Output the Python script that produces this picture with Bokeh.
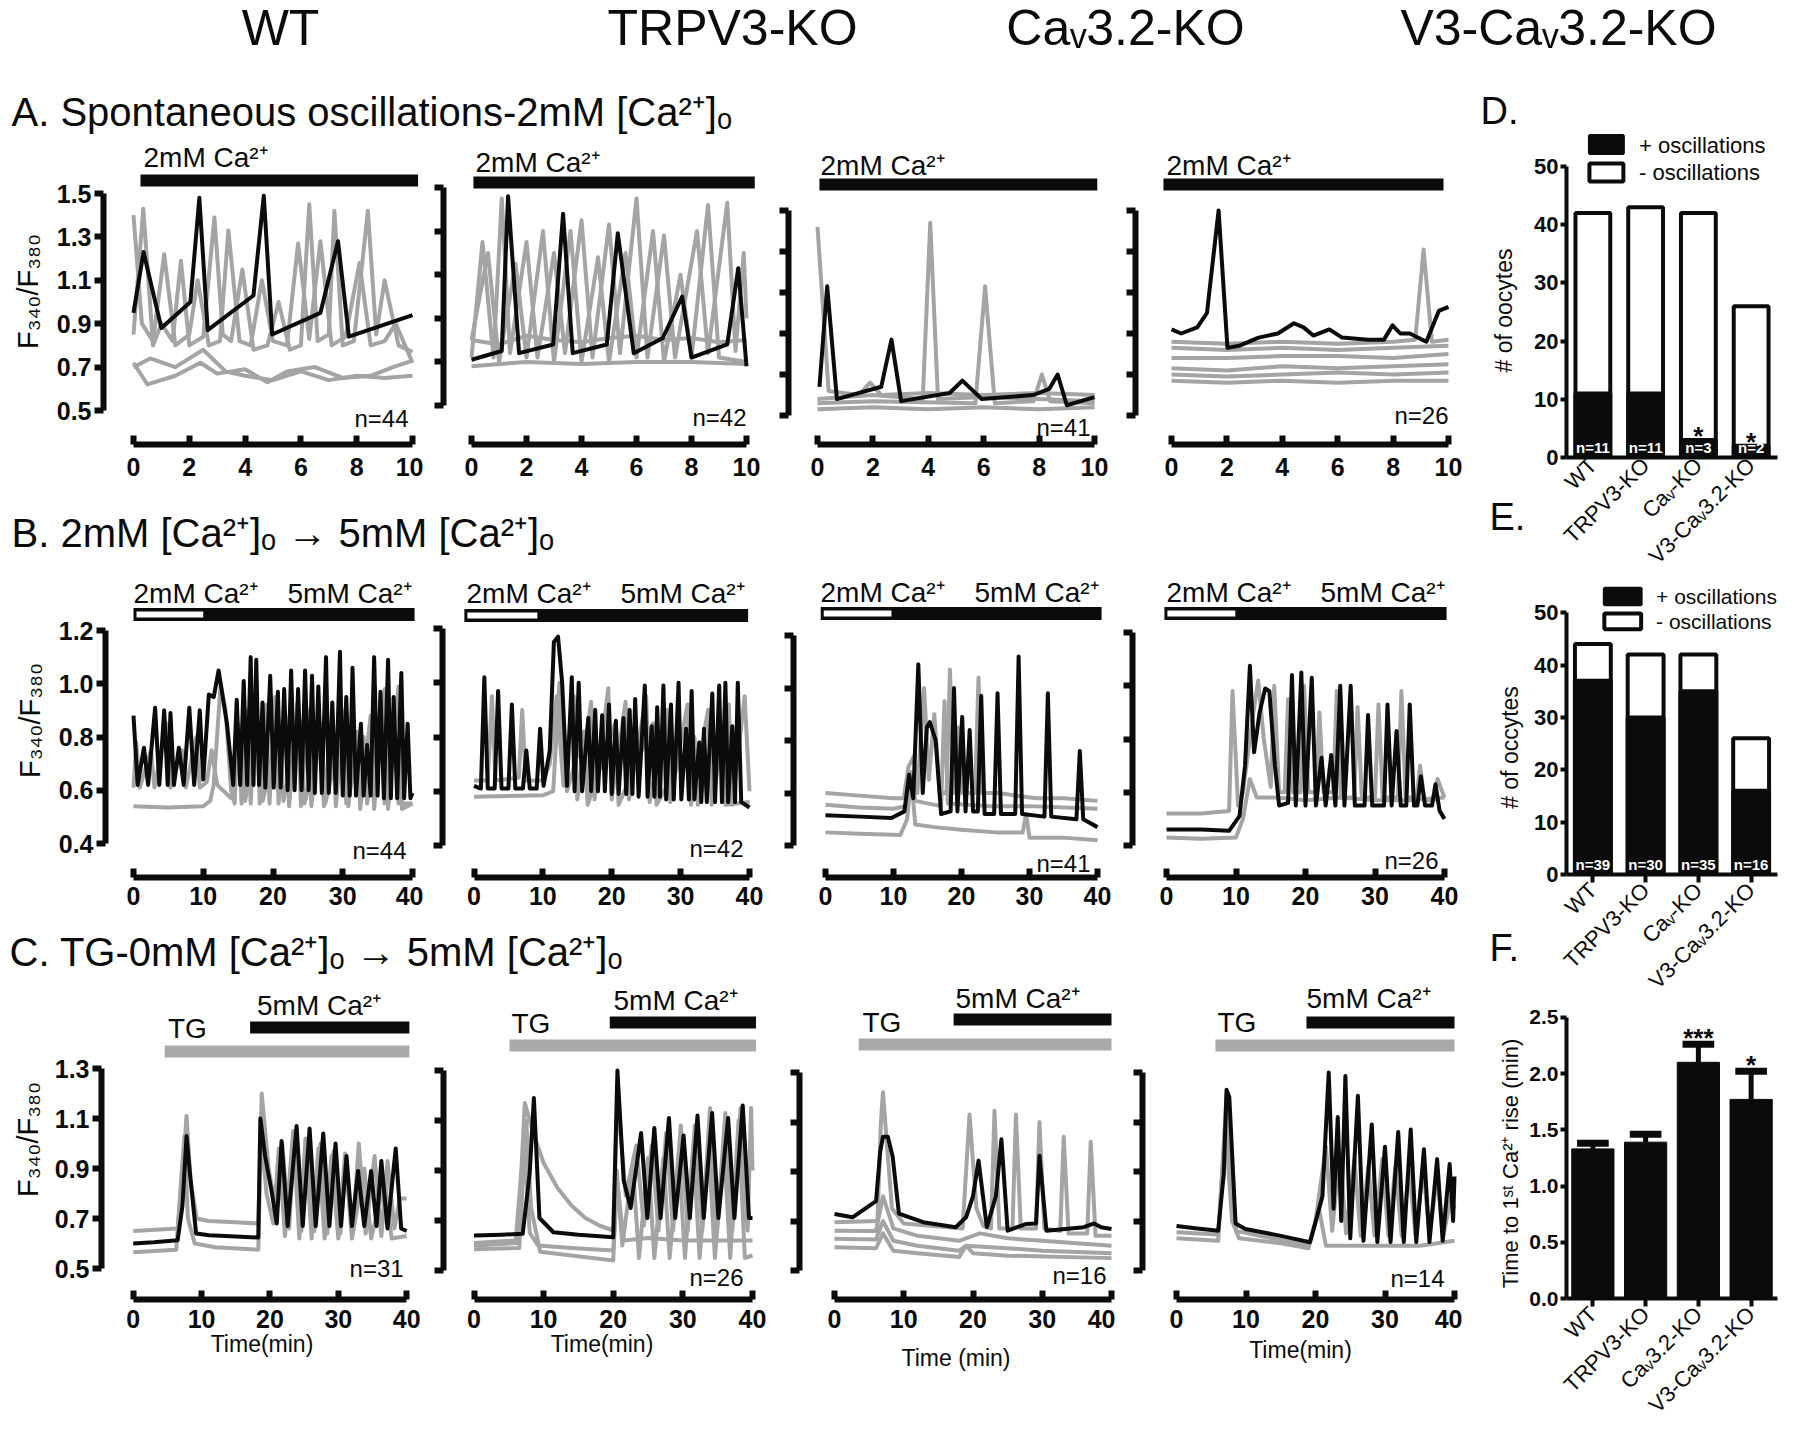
import math
from bokeh.plotting import figure
from bokeh.layouts import row, column
from bokeh.models import (Range1d, LinearAxis, FixedTicker, Spacer,
                          NumeralTickFormatter, CustomJSTickFormatter)
from bokeh.core.properties import value
from bokeh.embed import file_html
from bokeh.resources import INLINE

FONT = "Liberation Sans"
INK = "#0b0b0b"
GREY = "#a4a4a4"

# ------------------------------------------------------------------ texts
HEADERS = ["WT", "TRPV3-KO", "Caᵥ3.2-KO", "V3-Caᵥ3.2-KO"]
TITLE_A = "A. Spontaneous oscillations-2mM [Ca²⁺]ₒ"
TITLE_B = "B. 2mM [Ca²⁺]ₒ → 5mM [Ca²⁺]ₒ"
TITLE_C = "C. TG-0mM [Ca²⁺]ₒ → 5mM [Ca²⁺]ₒ"
PANEL_LETTERS = ["D.", "E.", "F."]
YLABEL = "F₃₄₀/F₃₈₀"
N_A = ["n=44", "n=42", "n=41", "n=26"]
N_B = ["n=44", "n=42", "n=41", "n=26"]
N_C = ["n=31", "n=26", "n=16", "n=14"]
TIME_LABELS = ["Time(min)", "Time(min)", "Time (min)", "Time(min)"]

A_YTICKS = [0.5, 0.7, 0.9, 1.1, 1.3, 1.5]
A_XTICKS = [0, 2, 4, 6, 8, 10]
B_YTICKS = [0.4, 0.6, 0.8, 1.0, 1.2]
C_YTICKS = [0.5, 0.7, 0.9, 1.1, 1.3]
BC_XTICKS = [0, 10, 20, 30, 40]

# stimulus timing (min)
A_STIM = [(0.25, 10.2), (0.07, 10.3), (0.07, 10.1), (-0.29, 9.82)]
B_STIM = [(0.0, 10.0, 40.3), (-1.4, 9.2, 39.8), (-0.7, 9.7, 40.6), (-0.3, 9.9, 40.3)]
C_TG = [(4.6, 40.4), (5.1, 40.5), (3.5, 40.0), (5.6, 40.0)]
C_CA = [(17.1, 40.4), (19.5, 40.5), (17.2, 40.0), (18.7, 40.0)]

# ------------------------------------------------------------------ traces (time min, F340/F380)
A1_K = [(0,0.95),(0.36,1.23),(1.0,0.88),(2.04,1.0),(2.36,1.48),(2.66,0.87),(4.3,1.03),(4.67,1.49),
        (4.97,0.85),(6.7,0.95),(7.33,1.28),(7.72,0.84),(10,0.94)]
A1_GREY = [
    [(0,0.85),(0.35,1.43),(0.7,0.8),(1.0,0.9),(1.4,0.82),(1.7,1.19),(2.0,0.8),(2.5,0.84),(2.9,1.39),
     (3.2,0.85),(3.5,0.82),(3.9,1.15),(4.3,0.78),(4.8,0.8),(5.2,1.0),(5.6,0.78),(6.0,0.8),(6.3,1.45),
     (6.6,0.82),(7.0,0.85),(7.2,1.42),(7.5,0.8),(7.9,0.82),(8.4,1.42),(8.7,0.85),(9.0,1.1),(9.5,0.8),(10,0.77)],
    [(0,1.4),(0.3,0.9),(0.7,0.82),(1.1,1.22),(1.5,0.8),(2.0,0.85),(2.3,1.1),(2.7,0.8),(3.1,0.82),(3.4,1.33),
     (3.8,0.82),(4.2,0.8),(4.6,1.1),(5.0,0.82),(5.5,0.8),(5.9,1.27),(6.3,0.83),(6.7,1.28),(7.1,0.8),
     (7.6,0.84),(8.1,1.18),(8.5,0.8),(9.0,0.82),(9.4,0.9),(10,0.72)],
    [(0,0.72),(0.5,0.62),(1.5,0.66),(2.4,0.72),(3.0,0.67),(4.0,0.69),(4.8,0.63),(5.5,0.68),(6.5,0.7),
     (7.5,0.65),(8.5,0.66),(9.3,0.7),(10,0.73)],
    [(0,0.7),(0.6,0.74),(1.5,0.7),(2.5,0.78),(3.3,0.68),(4.0,0.66),(5.0,0.64),(6.0,0.68),(7.0,0.64),
     (8.0,0.66),(9.0,0.65),(10,0.66)],
]
A2_K = [(0,0.71),(1.1,0.75),(1.33,1.46),(1.73,0.74),(2.97,0.78),(3.33,1.38),(3.68,0.74),(4.92,0.78),
        (5.32,1.29),(5.9,0.74),(6.96,0.81),(7.66,1.0),(8.0,0.72),(9.3,0.78),(9.7,1.13),(10,0.68)]
A2_GREY = [
    [(0,0.72),(0.4,1.25),(0.8,0.72),(1.1,1.45),(1.4,0.74),(2.0,1.25),(2.4,0.72),(3.0,1.2),(3.4,0.74),
     (4.0,1.35),(4.4,0.72),(5.0,1.33),(5.4,0.74),(6.0,1.45),(6.4,0.72),(7.0,1.28),(7.4,0.72),(8.2,1.3),
     (8.6,0.74),(9.3,1.43),(9.6,0.75),(9.9,1.2),(10,0.9)],
    [(0,0.8),(0.6,1.2),(1.0,0.7),(1.6,1.15),(2.0,0.72),(2.6,1.3),(3.0,0.7),(3.6,1.3),(4.0,0.7),(4.6,1.18),
     (5.0,0.7),(5.6,1.2),(6.0,0.72),(6.6,1.3),(7.0,0.7),(7.6,1.1),(8.0,0.72),(8.6,1.42),(9.0,0.72),(10,0.7)],
    [(0,0.8),(1,0.78),(2,0.82),(3,0.8),(4,0.79),(5,0.81),(6,0.82),(7,0.8),(8,0.81),(9,0.79),(10,0.8)],
    [(0,0.68),(2,0.7),(4,0.69),(6,0.7),(8,0.7),(10,0.69)],
]
A3_K = [(0.07,0.64),(0.35,1.13),(0.7,0.58),(2.3,0.64),(2.67,0.87),(3.02,0.57),(4.77,0.61),(5.23,0.67),
        (5.93,0.58),(7.79,0.6),(8.37,0.63),(8.67,0.7),(9.0,0.55),(10,0.59)]
A3_GREY = [
    [(0,1.42),(0.4,0.62),(1.5,0.6),(1.9,0.66),(2.3,0.6),(4,0.61),(6,0.6),(8,0.61),(10,0.6)],
    [(0,0.58),(2,0.6),(3.8,0.58),(4.07,1.44),(4.35,0.58),(6,0.59),(8,0.58),(10,0.57)],
    [(0,0.56),(2,0.57),(5.7,0.56),(6.05,1.13),(6.4,0.56),(7.8,0.57),(8.1,0.7),(8.4,0.57),(10,0.56)],
    [(0,0.53),(2,0.54),(4,0.53),(6,0.54),(8,0.53),(10,0.54)],
]
A4_K = [(0,0.92),(0.35,0.9),(0.93,0.93),(1.28,1.0),(1.7,1.5),(2.02,0.83),(2.44,0.84),(3.14,0.88),
        (3.84,0.9),(4.42,0.95),(4.77,0.93),(5.12,0.89),(5.7,0.92),(6.16,0.88),(7.1,0.87),(7.67,0.87),
        (7.98,0.94),(8.26,0.9),(8.6,0.9),(9.2,0.86),(9.65,1.01),(10,1.03)]
A4_GREY = [
    [(0,0.86),(2,0.85),(4,0.86),(6,0.85),(8,0.86),(8.8,0.87),(9.1,1.31),(9.4,0.86),(10,0.87)],
    [(0,0.83),(2,0.82),(4,0.83),(6,0.82),(8,0.83),(10,0.84)],
    [(0,0.78),(2,0.78),(4,0.79),(6,0.79),(8,0.78),(10,0.8)],
    [(0,0.73),(2,0.72),(4,0.74),(6,0.73),(8,0.74),(10,0.75)],
    [(0,0.7),(2,0.69),(4,0.7),(6,0.71),(8,0.7),(10,0.71)],
    [(0,0.67),(2,0.66),(4,0.67),(6,0.66),(8,0.67),(10,0.67)],
]

B1_K = [(0,0.88),(0.6,0.62),(1.5,0.76),(2.1,0.62),(3.1,0.91),(3.7,0.62),(4.4,0.90),(4.9,0.62),(5.3,0.89),
        (5.8,0.62),(6.5,0.76),(7.2,0.62),(8.0,0.91),(8.7,0.62),(9.5,0.90),(10.0,0.64),(10.8,0.96),
        (11.5,0.95),(12.2,1.05),(13.4,0.85),(14.3,0.62),(14.8,0.94),(15.3,0.62),(15.8,1.01),(16.3,0.62),
        (16.8,1.1),(17.2,0.62),(17.6,1.09),(18.0,0.62),(18.5,0.93),(18.9,0.61),(19.6,1.03),(20.1,0.61),
        (20.7,0.97),(21.1,0.61),(21.6,0.98),(22.1,0.6),(22.6,1.05),(23.1,0.6),(23.6,0.98),(24.1,0.6),
        (24.6,1.05),(25.1,0.6),(25.6,1.03),(26.0,0.59),(26.5,0.99),(27.0,0.59),(27.6,1.1),(28.0,0.59),
        (28.5,0.93),(29.0,0.59),(29.6,1.12),(30.0,0.58),(30.5,0.95),(31.0,0.58),(31.4,1.06),(31.9,0.58),
        (32.6,0.85),(33.0,0.58),(33.5,0.77),(34.0,0.58),(34.5,1.1),(35.0,0.58),(35.4,0.97),(35.9,0.57),
        (36.5,1.09),(36.9,0.57),(37.3,0.95),(37.8,0.57),(38.4,1.04),(38.8,0.57),(39.3,0.85),(39.7,0.57),(40,0.59)]
B1_GREY = [
    [(0,0.54),(5,0.535),(10,0.54),(11.0,0.56),(11.5,0.62),(12.5,1.0),(13.2,0.9),(14.0,0.6),(14.5,0.55),
     (15.0,0.85),(15.5,0.55),(16.3,0.9),(16.8,0.55),(17.6,0.95),(18.1,0.55),(19.0,0.92),(19.5,0.55),
     (20.3,0.95),(20.8,0.55),(21.8,0.88),(22.3,0.54),(23.5,0.93),(24.0,0.54),(25.0,0.9),(25.5,0.54),
     (26.8,0.85),(27.3,0.54),(28.5,0.88),(29.0,0.54),(30.3,0.9),(30.8,0.54),(32.0,0.82),(32.5,0.53),
     (34.0,0.88),(34.5,0.53),(36.0,0.98),(36.5,0.53),(38.0,0.99),(38.5,0.53),(40,0.55)],
    [(0,0.61),(0.4,0.78),(0.9,0.61),(2.5,0.75),(3.0,0.61),(4.8,0.85),(5.3,0.61),(7.0,0.75),(7.5,0.61),
     (9.0,0.8),(9.5,0.61),(10.5,0.63),(11.2,0.75),(12.0,0.62),(14.0,0.57),(15.5,0.8),(16.0,0.56),
     (18.0,0.85),(18.5,0.56),(21.0,0.82),(21.5,0.56),(24.0,0.86),(24.5,0.55),(27.0,0.8),(27.5,0.55),
     (30.0,0.84),(30.5,0.55),(33.0,0.8),(33.5,0.55),(35.5,0.9),(36.0,0.55),(37.5,0.83),(38.0,0.55),(40,0.55)],
]
B2_K = [(0,0.62),(1.0,0.61),(1.5,1.02),(2.0,0.61),(3.0,0.61),(3.5,0.97),(4.0,0.61),(5.0,0.61),(5.5,0.92),
        (6.0,0.61),(7.1,0.61),(7.6,0.75),(8.1,0.61),(9.1,0.61),(9.6,0.83),(10.1,0.62),(11.0,0.75),
        (11.6,1.15),(12.2,1.17),(12.8,1.0),(13.5,0.62),(14.2,1.02),(14.6,0.6),(15.2,1.0),(15.7,0.6),
        (16.6,0.87),(17.0,0.6),(17.6,0.9),(18.0,0.6),(18.6,0.88),(19.0,0.6),(19.6,0.92),(20.0,0.59),
        (20.6,0.86),(21.0,0.59),(21.7,0.87),(22.1,0.59),(22.6,0.9),(23.0,0.59),(23.4,0.94),(23.9,0.58),
        (24.8,0.99),(25.2,0.58),(25.8,0.84),(26.2,0.58),(26.6,0.91),(27.0,0.58),(27.5,0.99),(27.9,0.57),
        (28.6,0.92),(29.0,0.57),(29.7,1.0),(30.1,0.57),(30.8,0.83),(31.2,0.57),(31.6,0.97),(32.0,0.57),
        (32.7,0.78),(33.0,0.56),(33.4,0.83),(33.8,0.56),(34.6,0.96),(35.0,0.56),(35.6,0.99),(36.0,0.56),
        (36.5,1.0),(36.9,0.56),(37.5,0.84),(37.9,0.56),(38.3,1.0),(38.8,0.56),(40,0.54)]
B2_GREY = [
    [(0,0.64),(2,0.64),(2.6,0.95),(3.1,0.64),(6.5,0.65),(7.0,0.9),(7.5,0.64),(10,0.64),(11.0,0.7),
     (12.0,0.95),(13.0,0.62),(14.5,0.95),(15.0,0.57),(17.0,0.93),(17.5,0.57),(19.5,0.98),(20.0,0.57),
     (22.0,0.93),(22.5,0.57),(25.0,0.95),(25.5,0.56),(28.0,0.9),(28.5,0.56),(31.0,0.92),(31.5,0.55),
     (34.0,0.9),(34.5,0.55),(37.0,0.92),(37.5,0.55),(39.3,0.95),(40,0.6)],
    [(0,0.58),(10,0.585),(11.5,0.6),(12.4,1.0),(13.5,0.6),(16.0,0.82),(16.5,0.55),(20.5,0.85),(21,0.55),
     (26,0.85),(26.5,0.55),(32,0.8),(32.5,0.55),(36,0.85),(36.5,0.55),(40,0.56)],
]
B3_K = [(0,0.515),(5,0.51),(9.7,0.505),(11.6,0.53),(12.3,0.67),(12.9,0.58),(13.65,1.09),(14.3,0.6),
        (14.9,0.85),(15.35,0.87),(16.2,0.8),(17.0,0.52),(18.4,0.53),(18.9,1.0),(19.4,0.53),(20.1,0.89),
        (20.6,0.53),(21.2,0.84),(21.7,0.53),(22.4,0.53),(22.9,0.97),(23.4,0.52),(24.8,0.52),(25.3,0.98),
        (25.8,0.52),(27.9,0.52),(28.4,1.12),(28.9,0.52),(32.2,0.51),(32.7,0.98),(33.2,0.51),(36.9,0.5),
        (37.4,0.76),(37.9,0.5),(40,0.47)]
B3_GREY = [
    [(0,0.6),(5,0.59),(10,0.58),(11.5,0.58),(12.2,0.7),(13.0,0.74),(13.5,0.6),(14.5,1.0),(15.2,0.65),
     (16.0,0.9),(16.8,0.6),(17.8,0.6),(18.3,1.07),(18.9,0.6),(19.5,0.85),(20.1,0.6),(22.0,0.6),(22.5,1.04),
     (23.0,0.6),(25.5,0.6),(28,0.59),(31,0.58),(35,0.58),(40,0.57)],
    [(0,0.555),(5,0.545),(10,0.54),(11.8,0.55),(12.5,0.68),(13.2,0.57),(17.0,0.55),(17.5,0.95),
     (18.0,0.56),(24,0.55),(30,0.55),(40,0.54)],
    [(0,0.45),(5,0.445),(11,0.44),(12.0,0.5),(12.6,0.66),(13.2,0.48),(16,0.47),(20,0.46),(25,0.45),
     (29,0.45),(29.5,0.52),(30,0.43),(35,0.43),(40,0.42)],
]
B4_K = [(0,0.46),(5,0.46),(9,0.455),(10.5,0.51),(11.3,0.7),(12.0,1.075),(12.6,0.75),(13.4,0.9),(14.2,0.99),
        (14.8,0.98),(15.6,0.7),(16.2,0.55),(17.5,0.56),(18.05,1.04),(18.6,0.55),(19.4,1.05),(20.0,0.55),
        (20.9,1.03),(21.5,0.55),(22.3,0.73),(22.9,0.55),(23.7,0.74),(24.3,0.55),(25.0,1.0),(25.6,0.55),
        (26.5,1.0),(27.1,0.55),(28.5,0.55),(29.0,0.89),(29.6,0.55),(31.3,0.55),(31.8,0.93),(32.4,0.55),
        (33.1,0.83),(33.7,0.55),(34.5,0.55),(35.0,0.93),(35.6,0.55),(36.1,0.55),(36.6,0.66),(37.2,0.55),
        (38.2,0.55),(38.7,0.63),(39.3,0.53),(40,0.5)]
B4_GREY = [
    [(0,0.52),(5,0.52),(9.0,0.53),(9.5,0.98),(10.3,0.55),(11,0.6),(12.5,0.9),(13.2,1.02),(14,0.8),
     (15.0,0.62),(15.5,1.0),(16.2,0.6),(17.0,0.6),(17.5,0.95),(18.2,0.6),(19.3,0.6),(19.8,1.0),(20.4,0.6),
     (21.5,0.6),(22.0,0.9),(22.6,0.6),(24.0,0.6),(24.5,0.98),(25.1,0.58),(27.0,0.58),(27.5,0.92),(28.1,0.58),
     (30.0,0.58),(30.5,0.93),(31.1,0.58),(33.3,0.58),(33.8,0.98),(34.4,0.58),(36.0,0.58),(36.5,0.7),
     (37.1,0.57),(38.5,0.57),(39,0.65),(40,0.58)],
    [(0,0.43),(5,0.425),(10,0.43),(11,0.5),(12,0.65),(13,0.58),(16,0.58),(20,0.57),(25,0.58),(30,0.57),
     (35,0.57),(40,0.58)],
]

C1_K = [(0,0.6),(3,0.605),(6.5,0.613),(7.2,0.75),(7.8,1.03),(8.3,0.88),(9.2,0.64),(11.1,0.633),(15,0.628),
        (18.3,0.624),(18.6,1.1),(19.3,0.95),(20.3,0.8),(21.0,0.68),(21.7,1.01),(22.6,0.67),(23.9,1.07),
        (24.8,0.67),(25.8,1.06),(26.7,0.67),(27.8,1.04),(28.7,0.67),(29.6,1.0),(30.4,0.67),(31.2,0.95),
        (32.0,0.67),(32.9,0.89),(33.8,0.67),(34.8,0.89),(35.6,0.67),(36.3,0.93),(37.2,0.66),(38.4,0.98),
        (39.2,0.66),(40,0.65)]
C1_GREY = [
    [(0,0.65),(6.5,0.66),(7.3,0.9),(7.8,1.11),(8.4,0.85),(9.3,0.7),(11,0.69),(15,0.685),(18.3,0.68),
     (18.8,1.2),(19.8,0.9),(20.8,0.75),(21.8,1.0),(22.8,0.66),(23.6,1.03),(24.6,0.65),(25.5,1.0),
     (26.5,0.65),(27.4,1.0),(28.4,0.64),(29.3,0.97),(30.3,0.64),(31.1,0.93),(32.1,0.64),(33.0,1.0),
     (34.0,0.64),(35.3,0.95),(36.3,0.63),(37.2,0.93),(38.2,0.66),(39,0.78),(40,0.78)],
    [(0,0.565),(6.3,0.575),(7.0,0.85),(7.5,1.03),(8.0,0.7),(9.0,0.6),(12,0.585),(18.3,0.575),(18.7,1.05),
     (19.5,0.8),(20.5,0.68),(21.3,0.98),(22.2,0.63),(23.4,1.05),(24.3,0.62),(25.2,1.02),(26.1,0.62),
     (27.1,0.98),(28.0,0.62),(29.0,0.95),(30.0,0.62),(31.0,0.96),(32.0,0.62),(33.8,0.9),(34.8,0.62),
     (36.8,0.85),(37.8,0.62),(40,0.63)],
]
C2_K = [(0,0.64),(4,0.643),(7.0,0.647),(8.0,0.89),(8.6,1.19),(9.4,0.71),(11.4,0.653),(15,0.643),(20.0,0.633),
        (20.6,1.3),(21.5,0.86),(22.5,0.75),(24.0,1.05),(24.9,0.71),(25.9,1.07),(26.8,0.71),(28.0,1.11),
        (28.9,0.71),(30.1,1.04),(31.0,0.71),(32.1,1.12),(33.0,0.71),(34.2,1.13),(35.1,0.71),(36.5,1.11),
        (37.4,0.71),(38.6,1.16),(39.5,0.71),(40,0.71)]
C2_GREY = [
    [(0,0.61),(6.0,0.62),(6.8,0.9),(7.3,1.17),(8.5,1.05),(10,0.93),(12,0.83),(14,0.76),(16,0.71),(18,0.68),
     (20,0.66),(20.6,1.2),(21.8,0.8),(23.3,1.0),(24.4,0.68),(25.5,1.0),(26.5,0.66),(27.6,1.05),(28.6,0.66),
     (29.7,1.08),(30.7,0.66),(31.7,1.08),(32.8,0.66),(33.9,1.15),(34.9,0.66),(36.1,1.13),(37.1,0.66),
     (38.3,1.15),(39.3,0.66),(39.8,1.15),(40,0.9)],
    [(0,0.6),(6.3,0.61),(7.0,0.95),(7.5,1.1),(8.2,0.75),(9.5,0.575),(14,0.56),(20,0.54),(20.5,0.9),
     (21.3,0.6),(22.8,0.92),(23.7,0.55),(25,0.95),(25.9,0.55),(27.2,0.95),(28.1,0.55),(29.4,0.97),
     (30.3,0.55),(31.5,1.0),(32.4,0.55),(33.7,1.0),(34.6,0.55),(35.9,1.0),(36.8,0.55),(38,1.1),
     (38.9,0.55),(40,0.56)],
    [(0,0.585),(6.5,0.59),(7.3,1.0),(8.0,0.65),(9.2,0.6),(14,0.59),(20,0.58),(20.6,0.85),(21.5,0.62),
     (25,0.63),(30,0.62),(35,0.62),(40,0.62)],
]
C3_K = [(0,0.728),(2.6,0.715),(6.0,0.78),(6.6,0.98),(7.0,1.04),(7.7,1.04),(8.4,0.96),(9.3,0.73),(12.8,0.695),
        (17.5,0.675),(19.0,0.715),(20.0,0.8),(20.8,0.944),(22.0,0.675),(23.3,0.8),(24.1,1.03),(25.0,0.661),
        (27.7,0.688),(29.1,0.69),(29.6,0.964),(30.6,0.661),(36,0.675),(37.5,0.69),(38.5,0.675),(40,0.668)]
C3_GREY = [
    [(0,0.695),(6.2,0.7),(6.7,1.1),(7.0,1.22),(7.6,1.0),(8.3,0.75),(10,0.69),(18.5,0.67),(19.5,1.13),
     (20.5,0.75),(21.5,0.68),(22.6,0.67),(23.1,1.145),(23.8,0.67),(25.7,0.67),(26.2,1.13),(26.9,0.67),
     (29.1,0.67),(29.6,1.1),(30.3,0.67),(32.6,0.66),(33.1,1.04),(33.8,0.65),(36.5,0.65),(37.0,1.02),
     (37.7,0.64),(40,0.64)],
    [(0,0.661),(6,0.66),(7,0.8),(8.5,0.67),(12,0.64),(18,0.62),(20,0.64),(21,0.65),(25,0.63),(30,0.62),
     (35,0.61),(40,0.6)],
    [(0,0.628),(6,0.625),(7,0.7),(8.5,0.62),(12,0.6),(18,0.58),(19,0.6),(25,0.59),(30,0.58),(40,0.57)],
    [(0,0.594),(6,0.59),(7,0.65),(8.5,0.58),(12,0.57),(18,0.555),(19,0.6),(20,0.57),(25,0.56),(40,0.55)],
]
C4_K = [(0,0.68),(3,0.67),(6,0.661),(6.8,0.89),(7.2,1.23),(7.6,1.2),(8.5,0.69),(9.9,0.668),(15,0.64),
        (19.2,0.614),(19.8,0.675),(21.0,0.8),(21.9,1.3),(22.6,0.75),(23.2,1.12),(23.7,0.7),(24.3,1.286),
        (25.0,0.63),(26.1,1.206),(26.9,0.62),(28.1,1.09),(28.9,0.615),(30.0,1.0),(30.8,0.615),(31.9,1.06),
        (32.7,0.615),(33.7,1.07),(34.5,0.615),(35.6,0.99),(36.4,0.615),(37.5,0.95),(38.3,0.62),(39.3,0.93),
        (39.8,0.7),(40,0.88)]
C4_GREY = [
    [(0,0.655),(6,0.645),(6.8,1.0),(7.2,1.21),(7.8,0.9),(8.6,0.66),(12,0.64),(19,0.6),(20,0.7),(21.5,1.0),
     (22.4,0.66),(23.5,0.98),(24.4,0.65),(25.6,0.95),(26.5,0.64),(27.6,0.92),(28.5,0.64),(29.6,0.95),
     (30.5,0.64),(31.5,0.92),(32.4,0.64),(33.5,0.9),(34.4,0.64),(35.5,0.92),(36.4,0.64),(37.5,0.88),
     (38.4,0.64),(39.5,0.8),(40,0.75)],
    [(0,0.63),(6,0.62),(7,1.1),(8,0.7),(9,0.63),(15,0.61),(19,0.59),(20.5,0.75),(21.5,0.6),(25,0.6),
     (30,0.6),(35,0.6),(40,0.62)],
]

# ------------------------------------------------------------------ bar charts
D_CATS = ["WT", "TRPV3-KO", "Caᵥ-KO", "V3-Caᵥ3.2-KO"]
D_TOTAL = [42, 43, 42, 26]
D_POS = [11, 11, 3, 2]
D_N = ["n=11", "n=11", "n=3", "n=2"]
D_SIG = ["", "", "*", "*"]
E_CATS = ["WT", "TRPV3-KO", "Caᵥ-KO", "V3-Caᵥ3.2-KO"]
E_TOTAL = [44, 42, 42, 26]
E_POS = [37, 30, 35, 16]
E_N = ["n=39", "n=30", "n=35", "n=16"]
F_CATS = ["WT", "TRPV3-KO", "Caᵥ3.2-KO", "V3-Caᵥ3.2-KO"]
F_MEAN = [1.33, 1.39, 2.10, 1.77]
F_SEM = [0.05, 0.07, 0.16, 0.25]
F_SIG = ["", "", "***", "*"]
LEGEND = ["+ oscillations", "- oscillations"]
BAR_YLABELS = ["# of oocytes", "# of occytes", "Time to 1ˢᵗ Ca²⁺ rise (min)"]

# ------------------------------------------------------------------ helpers
def style_axis(ax, lw, out, inn, size, bold=True):
    ax.axis_line_width = lw
    ax.axis_line_color = INK
    ax.major_tick_line_width = lw
    ax.major_tick_line_color = INK
    ax.major_tick_out = out
    ax.major_tick_in = inn
    ax.minor_tick_out = 0
    ax.minor_tick_in = 0
    ax.major_label_text_font = FONT
    ax.major_label_text_font_style = "bold" if bold else "normal"
    ax.major_label_text_font_size = size
    ax.major_label_text_color = INK
    ax.axis_label_text_font = FONT
    ax.axis_label_text_font_style = "normal"
    ax.axis_label_text_color = INK


def txt(p, x, y, s, size, align="left", baseline="middle", color=INK, style="normal", rng="px", angle=0):
    p.text(x=[x], y=[y], text=[s], text_font=value(FONT), text_font_size=size, text_align=align,
           text_baseline=baseline, text_color=color, text_font_style=style, angle=angle,
           x_range_name=rng, y_range_name=rng)


def strip(x0, y0, w, h):
    p = figure(width=w, height=h, x_range=Range1d(x0, x0 + w), y_range=Range1d(y0 + h, y0),
               x_axis_type=None, y_axis_type=None, title=None, toolbar_location=None,
               output_backend="svg", outline_line_color=None, min_border=0)
    return p


def trace_panel(g, r, ylo, yhi, yticks, tmax, xticks, first, ylab_sd, xlab_sd,
                xlabel=None, xlabel_sd=0):
    fl, frr, axx, fr, x0, x1, y1, y0 = g
    ppx = (x1 - x0) / tmax
    ppy = (y0 - y1) / (yhi - ylo)
    p = figure(width=frr - fl, height=r["bottom"] - r["top"],
               x_range=Range1d((axx - x0) / ppx, tmax + (fr - x1) / ppx),
               y_range=Range1d(ylo - (r["fb"] - y0) / ppy, yhi + (y1 - r["ft"]) / ppy),
               x_axis_type=None, y_axis_type=None, title=None, toolbar_location=None,
               output_backend="svg", outline_line_color=None,
               min_border_left=axx - fl, min_border_right=frr - fr,
               min_border_top=r["ft"] - r["top"], min_border_bottom=r["bottom"] - r["fb"])
    p.extra_x_ranges = {"px": Range1d(axx, fr)}
    p.extra_y_ranges = {"px": Range1d(r["fb"], r["ft"])}
    ya = LinearAxis(bounds=(ylo, yhi), ticker=FixedTicker(ticks=yticks))
    style_axis(ya, 6, 9, 0, "25px")
    ya.major_label_standoff = 3
    if first:
        ya.formatter = NumeralTickFormatter(format="0.0")
        ya.axis_label = YLABEL
        ya.axis_label_text_font_size = "29px"
        ya.axis_label_standoff = ylab_sd
    else:
        ya.formatter = CustomJSTickFormatter(code="return '';")
    p.add_layout(ya, "left")
    xa = LinearAxis(bounds=(0, tmax), ticker=FixedTicker(ticks=xticks),
                    formatter=NumeralTickFormatter(format="0"))
    style_axis(xa, 6, 0, 9, "25px")
    xa.major_label_standoff = xlab_sd
    if xlabel:
        xa.axis_label = xlabel
        xa.axis_label_text_font_size = "23px"
        xa.axis_label_standoff = xlabel_sd
    p.add_layout(xa, "below")
    return p, ppx


def draw_traces(p, greys, black):
    for g in greys:
        p.line([q[0] for q in g], [q[1] for q in g], line_color=GREY, line_width=4, line_join="round")
    p.line([q[0] for q in black], [q[1] for q in black], line_color=INK, line_width=4, line_join="round")

# ------------------------------------------------------------------ geometry (page px)
ROW_A = dict(top=135, bottom=490, ft=138, fb=444)
ROW_B = dict(top=560, bottom=920, ft=563, fb=877)
ROW_C = dict(top=978, bottom=1400, ft=979, fb=1299)
# (fig left, fig right, axis x, frame right, x at t0, x at tmax, y at top tick, y at bottom tick)
GEO_A = [(8, 423, 103, 422, 133, 412, 193, 410), (423, 768, 443, 760, 471, 746, 187, 405),
         (768, 1115, 788, 1108, 817, 1094, 210, 415), (1115, 1462, 1135, 1458, 1171, 1448, 210, 415)]
GEO_B = [(8, 423, 105, 422, 133, 412, 630, 843), (423, 768, 442, 760, 473.5, 749, 628, 845),
         (768, 1115, 793, 1108, 825, 1097, 635, 845), (1115, 1462, 1132, 1458, 1166, 1444, 632, 845)]
GEO_C = [(8, 423, 98, 422, 130, 406, 1068, 1268), (423, 768, 443, 760, 473.5, 752, 1070, 1270),
         (768, 1115, 799, 1112, 834, 1111, 1072, 1270), (1115, 1462, 1142, 1458, 1176, 1454, 1072, 1270)]

A_TR = [(A1_GREY, A1_K), (A2_GREY, A2_K), (A3_GREY, A3_K), (A4_GREY, A4_K)]
B_TR = [(B1_GREY, B1_K), (B2_GREY, B2_K), (B3_GREY, B3_K), (B4_GREY, B4_K)]
C_TR = [(C1_GREY, C1_K), (C2_GREY, C2_K), (C3_GREY, C3_K), (C4_GREY, C4_K)]

A_LAB = [(143, 157), (475, 162), (820, 165), (1166, 165)]
A_BAR_Y = [180, 182, 184, 184]
A_NXY = [(408, 418), (746, 417), (1090, 427), (1448, 415)]
B_LAB = [(133, 593), (466, 593), (820, 592), (1166, 592)]
B_BAR_Y = [614, 615, 613, 613]
B_NXY = [(406, 850), (743, 848), (1090, 863), (1438, 860)]
C_TGXY = [(165, 1028), (511, 1023), (862, 1022), (1217, 1022)]
C_CAXY = [(255, 1005), (613, 1000), (955, 998), (1306, 998)]
C_KBAR_Y = [1027, 1022, 1019, 1022]
C_GBAR_Y = [1051, 1045, 1044, 1045]
C_NXY = [(403, 1268), (743, 1277), (1106, 1275), (1444, 1278)]
C_TIME_SD = [0, 0, 14, 6]

# ------------------------------------------------------------------ row A
rowA = []
for i in range(4):
    p, ppx = trace_panel(GEO_A[i], ROW_A, 0.5, 1.5, A_YTICKS, 10, A_XTICKS, i == 0, 10, 13)
    draw_traces(p, *A_TR[i])
    t0, t1 = A_STIM[i]
    p.quad(left=[t0], right=[t1], top=[A_BAR_Y[i] - 6], bottom=[A_BAR_Y[i] + 6],
           fill_color=INK, line_color=None, y_range_name="px")
    txt(p, A_LAB[i][0], A_LAB[i][1], "2mM Ca²⁺", "28px")
    txt(p, A_NXY[i][0], A_NXY[i][1], N_A[i], "24px", align="right")
    rowA.append(p)

# ------------------------------------------------------------------ row B
rowB = []
for i in range(4):
    p, ppx = trace_panel(GEO_B[i], ROW_B, 0.4, 1.2, B_YTICKS, 40, BC_XTICKS, i == 0, 10, 9)
    draw_traces(p, *B_TR[i])
    t0, ts, t1 = B_STIM[i]
    yb = B_BAR_Y[i]
    p.quad(left=[t0], right=[t1], top=[yb - 6.5], bottom=[yb + 6.5],
           fill_color=INK, line_color=None, y_range_name="px")
    p.quad(left=[t0 + 3 / ppx], right=[ts], top=[yb - 3], bottom=[yb + 3],
           fill_color="white", line_color=None, y_range_name="px")
    txt(p, B_LAB[i][0], B_LAB[i][1], "2mM Ca²⁺", "28px")
    txt(p, B_LAB[i][0] + 154, B_LAB[i][1], "5mM Ca²⁺", "28px")
    txt(p, B_NXY[i][0], B_NXY[i][1], N_B[i], "24px", align="right")
    rowB.append(p)

# ------------------------------------------------------------------ row C
rowC = []
for i in range(4):
    p, ppx = trace_panel(GEO_C[i], ROW_C, 0.5, 1.3, C_YTICKS, 40, BC_XTICKS, i == 0, 8, 10,
                         xlabel=TIME_LABELS[i], xlabel_sd=C_TIME_SD[i])
    draw_traces(p, *C_TR[i])
    g0, g1 = C_TG[i]
    k0, k1 = C_CA[i]
    p.quad(left=[g0], right=[g1], top=[C_GBAR_Y[i] - 6], bottom=[C_GBAR_Y[i] + 6],
           fill_color="#a9a9a9", line_color=None, y_range_name="px")
    p.quad(left=[k0], right=[k1], top=[C_KBAR_Y[i] - 6], bottom=[C_KBAR_Y[i] + 6],
           fill_color=INK, line_color=None, y_range_name="px")
    txt(p, C_TGXY[i][0], C_TGXY[i][1], "TG", "28px")
    txt(p, C_CAXY[i][0], C_CAXY[i][1], "5mM Ca²⁺", "28px")
    txt(p, C_NXY[i][0], C_NXY[i][1], N_C[i], "24px", align="right")
    rowC.append(p)

# ------------------------------------------------------------------ strips
header = strip(8, 0, 1782, 72)
for s, xc in zip(HEADERS, [280, 732, 1125, 1558]):
    txt(header, xc, 27, s, "50px", align="center", rng="default")

stA = strip(8, 72, 1454, 63)
txt(stA, 11, 111, TITLE_A, "40px", rng="default")
stB = strip(8, 490, 1454, 70)
txt(stB, 11, 532, TITLE_B, "40px", rng="default")
stC = strip(8, 920, 1454, 58)
txt(stC, 9, 951, TITLE_C, "40px", rng="default")

# side strip for the bar panels: panel letters and rotated y titles
RX = 1526
side = strip(1462, 72, RX - 1462, 1357)
for s, (lx, ly) in zip(PANEL_LETTERS, [(1480, 110), (1489, 516), (1489, 947)]):
    txt(side, lx, ly, s, "38px", rng="default")
for s, (lx, ly), fs in zip(BAR_YLABELS, [(1503, 310), (1509, 747), (1510, 1163)], ["23px", "23px", "22px"]):
    txt(side, lx, ly, s, fs, align="center", rng="default", angle=math.pi / 2)

# ------------------------------------------------------------------ bar panels (numeric slots 0.5..3.5)
SLOTS = [0.5, 1.5, 2.5, 3.5]


def bar_fig(cats, top, bottom, fleft, fright, ftop, fbot, ylo_hi, yref, yticks, fmt, lsize, tick_out):
    y_lo, y_hi = ylo_hi
    ppy = (fbot - yref) / (y_hi - y_lo)
    p = figure(width=1790 - RX, height=bottom - top, x_range=Range1d(0, 4),
               y_range=Range1d(y_lo, y_hi + (yref - ftop) / ppy),
               x_axis_type=None, y_axis_type=None, title=None, toolbar_location=None,
               output_backend="svg", outline_line_color=None,
               min_border_left=fleft - RX, min_border_right=1790 - fright,
               min_border_top=ftop - top, min_border_bottom=bottom - fbot)
    p.extra_x_ranges = {"px": Range1d(fleft, fright)}
    p.extra_y_ranges = {"px": Range1d(fbot, ftop)}
    ya = LinearAxis(bounds=(y_lo, y_hi), ticker=FixedTicker(ticks=yticks), formatter=fmt)
    style_axis(ya, 4, 6, 0, lsize)
    ya.major_label_standoff = 2
    p.add_layout(ya, "left")
    xa = LinearAxis(ticker=FixedTicker(ticks=SLOTS),
                    major_label_overrides={s: c for s, c in zip(SLOTS, cats)})
    style_axis(xa, 4, tick_out, 0, "22px", bold=False)
    xa.major_label_orientation = math.pi / 4
    xa.major_label_standoff = 4
    p.add_layout(xa, "below")
    return p

# D
pD = bar_fig(D_CATS, 72, 580, 1558, 1788, 120, 457, (0, 50), 166, [0, 10, 20, 30, 40, 50],
             NumeralTickFormatter(format="0"), "22px", 0)
pD.vbar(x=SLOTS, top=D_TOTAL, width=0.66, fill_color="white", line_color=INK, line_width=4)
pD.vbar(x=SLOTS, top=D_POS, width=0.66, fill_color=INK, line_color=INK, line_width=4)
pD.text(x=SLOTS, y=[0] * 4, text=D_N, text_font=value(FONT), text_font_size="15px",
        text_font_style="bold", text_color="white", text_align="center", text_baseline="bottom", y_offset=-2)
pD.text(x=SLOTS, y=D_POS, text=D_SIG, text_font=value(FONT), text_font_size="26px",
        text_font_style="bold", text_color=INK, text_align="center", text_baseline="middle", y_offset=-4)
pD.quad(left=[1583], right=[1620], top=[135], bottom=[153], fill_color=INK, line_color=INK,
        line_width=3, x_range_name="px", y_range_name="px")
pD.quad(left=[1583], right=[1620], top=[163], bottom=[181], fill_color="white", line_color=INK,
        line_width=4, x_range_name="px", y_range_name="px")
txt(pD, 1637, 145, LEGEND[0], "22px")
txt(pD, 1637, 172, LEGEND[1], "22px")

# E
pE = bar_fig(E_CATS, 580, 1005, 1565, 1777, 580, 882, (0, 50), 613, [0, 10, 20, 30, 40, 50],
             NumeralTickFormatter(format="0"), "22px", 8)
pE.vbar(x=SLOTS, top=E_TOTAL, width=0.68, fill_color="white", line_color=INK, line_width=4)
pE.vbar(x=SLOTS, top=E_POS, width=0.68, fill_color=INK, line_color=INK, line_width=4)
pE.text(x=SLOTS, y=[0] * 4, text=E_N, text_font=value(FONT), text_font_size="15px",
        text_font_style="bold", text_color="white", text_align="center", text_baseline="bottom", y_offset=-2)
pE.quad(left=[1603], right=[1640], top=[588], bottom=[605], fill_color=INK, line_color=INK,
        line_width=3, x_range_name="px", y_range_name="px")
pE.quad(left=[1603], right=[1640], top=[614], bottom=[630], fill_color="white", line_color=INK,
        line_width=4, x_range_name="px", y_range_name="px")
txt(pE, 1655, 596, LEGEND[0], "21px")
txt(pE, 1655, 622, LEGEND[1], "21px")

# F
pF = bar_fig(F_CATS, 1005, 1429, 1565, 1790, 1010, 1307, (0, 2.5), 1017, [0, 0.5, 1.0, 1.5, 2.0, 2.5],
             NumeralTickFormatter(format="0.0"), "21px", 8)
F_TOP = [m + s for m, s in zip(F_MEAN, F_SEM)]
pF.segment(x0=SLOTS, y0=F_MEAN, x1=SLOTS, y1=F_TOP, line_color=INK, line_width=5)
pF.rect(x=SLOTS, y=F_TOP, width=0.6, height=7, height_units="screen", fill_color=INK, line_color=None)
pF.vbar(x=SLOTS, top=F_MEAN, width=0.8, fill_color=INK, line_color=INK, line_width=1)
pF.text(x=SLOTS, y=F_TOP, text=F_SIG, text_font=value(FONT), text_font_size="26px",
        text_font_style="bold", text_color=INK, text_align="center", text_baseline="middle", y_offset=-6)

# ------------------------------------------------------------------ layout (page has no body margin: add 8px at left)
left = column(stA, row(*rowA), stB, row(*rowB), stC, row(*rowC))
right = row(side, column(pD, pE, pF))
body = column(header, row(left, right))
layout = row(Spacer(width=8, height=10), body)

open("out.html", "w").write(file_html(layout, INLINE))
